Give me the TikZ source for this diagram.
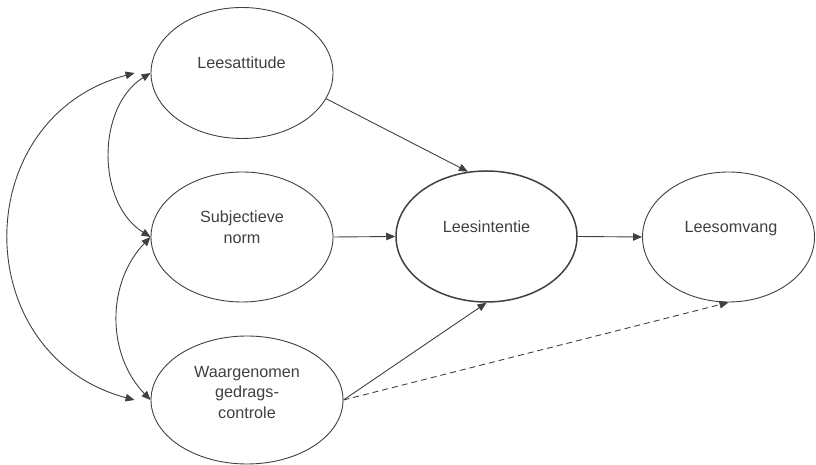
\documentclass[tikz,border=0pt]{standalone}
\usepackage{fontspec}
\setmainfont{Liberation Sans}
\usetikzlibrary{shapes.geometric,arrows.meta,calc}
\definecolor{ink}{gray}{0.25}
\begin{document}
\begin{tikzpicture}[x=1pt,y=1pt,line width=0.9pt,
  construct/.style={ellipse,draw=ink,inner sep=0pt},
  nametext/.style={anchor=base,align=center,text=ink,inner sep=0pt,
    font=\fontsize{16.2}{20.5}\selectfont},
  path/.style={draw=ink,-{Triangle[length=9pt,width=7.5pt]}},
  cov/.style={draw=ink,{Triangle[length=9pt,width=7.5pt]}-{Triangle[length=9pt,width=7.5pt]}}]
\useasboundingbox (0,0) rectangle (816,465);

% constructs
\node[construct,minimum width=182pt,minimum height=131pt] (att) at (242,392) {};
\node[construct,minimum width=182pt,minimum height=130pt] (sub) at (242,228) {};
\node[construct,minimum width=192pt,minimum height=128pt] (wg)  at (247,65) {};
\node[construct,line width=1.5pt,minimum width=181pt,minimum height=131pt] (int) at (486.5,228.5) {};
\node[construct,minimum width=172pt,minimum height=130pt] (omv) at (728.5,228) {};

% names (base anchor sits on the last line)
\node[nametext] (attT) at (241.5,396) {Leesattitude};
\node[nametext] (subT) at (242,221.7) {Subjectieve\\norm};
\node[nametext] (wgT)  at (247,46.7) {Waargenomen\\gedrags-\\controle};
\node[nametext] (intT) at (486.5,232) {Leesintentie};
\node[nametext] (omvT) at (731,232) {Leesomvang};

% paths
\draw[path] (att.-17) -- (int.106);
\draw[path] (sub.east) -- (int.west);
\draw[path] (int.east) -- (omv.west);
\draw[path] (wg.east) -- (int.south);
\draw[path,dash pattern=on 6pt off 4pt] (wg.east) -- (omv.south);

% correlations
\coordinate (oa) at ($(att.west)+(-16,0)$);
\coordinate (ow) at ($(wg.west)+(-16,0)$);
\draw[cov] (att.west) to[bend right=58] (sub.west);
\draw[cov] (sub.west) to[bend right=44] (wg.west);
\draw[cov] (oa) to[out=195,in=165,looseness=1.36] (ow);
\end{tikzpicture}
\end{document}
